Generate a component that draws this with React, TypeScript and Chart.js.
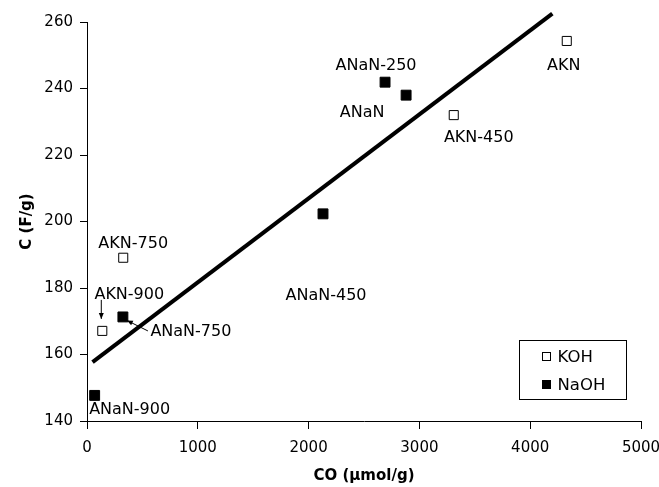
import React, { useEffect, useRef } from "react";
import { Chart, registerables } from "chart.js";

Chart.register(...registerables);

// ---- data ----
const kohLabels = ["AKN", "AKN-450", "AKN-750", "AKN-900"];
const kohCO = [4330, 3310, 327, 138];
const kohC = [254.3, 232.0, 189.1, 167.1];

const naohLabels = ["ANaN-250", "ANaN", "ANaN-450", "ANaN-750", "ANaN-900"];
const naohCO = [2690, 2880, 2130, 324, 69];
const naohC = [241.9, 238.0, 202.3, 171.3, 147.7];

const fitCO = [50, 4200];
const fitC = [157.7, 262.5];

const xTicks = [0, 1000, 2000, 3000, 4000, 5000];
const yTicks = [140, 160, 180, 200, 220, 240, 260];

// ---- label placement (pixel offsets from each marker) ----
const labelOffsets: Record<string, [number, number]> = {
  "AKN": [-3, 25],
  "AKN-450": [25, 23],
  "AKN-750": [10, -14],
  "AKN-900": [27, -36],
  "ANaN-250": [-9, -16],
  "ANaN": [-44, 18],
  "ANaN-450": [3, 82],
  "ANaN-750": [68, 15],
  "ANaN-900": [35, 14],
};
const arrowOffsets: Record<string, [number, number, number, number]> = {
  "AKN-900": [-1, -31, -1, -12],
  "ANaN-750": [25, 14, 4, 3.5],
};

const FONT = "'DejaVu Sans', 'Liberation Sans', Arial, sans-serif";

const annotationPlugin = {
  id: "annotations",
  afterDatasetsDraw(chart: any) {
    const ctx = chart.ctx;
    const xs = chart.scales.x;
    const ys = chart.scales.y;
    ctx.save();
    ctx.fillStyle = "#000";
    ctx.strokeStyle = "#000";
    ctx.font = `16px ${FONT}`;
    ctx.textAlign = "center";
    ctx.textBaseline = "middle";
    const groups = [
      { names: kohLabels, xv: kohCO, yv: kohC },
      { names: naohLabels, xv: naohCO, yv: naohC },
    ];
    for (const g of groups) {
      g.names.forEach((name, i) => {
        const px = xs.getPixelForValue(g.xv[i]);
        const py = ys.getPixelForValue(g.yv[i]);
        const off = labelOffsets[name] || [0, 0];
        ctx.fillText(name, px + off[0], py + off[1]);
        const a = arrowOffsets[name];
        if (a) {
          const x1 = px + a[0], y1 = py + a[1], x2 = px + a[2], y2 = py + a[3];
          ctx.lineWidth = 1;
          ctx.beginPath();
          ctx.moveTo(x1, y1);
          ctx.lineTo(x2, y2);
          ctx.stroke();
          const ang = Math.atan2(y2 - y1, x2 - x1);
          const L = 6, W = 2.5;
          ctx.beginPath();
          ctx.moveTo(x2, y2);
          ctx.lineTo(x2 - L * Math.cos(ang) + W * Math.sin(ang), y2 - L * Math.sin(ang) - W * Math.cos(ang));
          ctx.lineTo(x2 - L * Math.cos(ang) - W * Math.sin(ang), y2 - L * Math.sin(ang) + W * Math.cos(ang));
          ctx.closePath();
          ctx.fill();
        }
      });
    }
    // legend box
    const ca = chart.chartArea;
    const bx = Math.round(ca.right - 122) + 0.5;
    const by = Math.round(ca.bottom - 81) + 0.5;
    const bw = 107, bh = 59;
    ctx.fillStyle = "#fff";
    ctx.fillRect(bx, by, bw, bh);
    ctx.lineWidth = 1;
    ctx.strokeStyle = "#000";
    ctx.strokeRect(bx, by, bw, bh);
    const items = [
      { text: "KOH", fill: "#fff" },
      { text: "NaOH", fill: "#000" },
    ];
    ctx.textAlign = "left";
    ctx.font = `16.5px ${FONT}`;
    items.forEach((it, i) => {
      const cy = by + 16 + i * 28;
      ctx.fillStyle = it.fill;
      ctx.fillRect(bx + 23, cy - 4, 8, 8);
      ctx.strokeStyle = "#000";
      ctx.strokeRect(bx + 23, cy - 4, 8, 8);
      ctx.fillStyle = "#000";
      ctx.fillText(it.text, bx + 38, cy + 1);
    });
    ctx.restore();
  },
};

const zeroPad = (s: any) => {
  s.paddingLeft = 0;
  s.paddingRight = 0;
  s.paddingTop = 0;
  s.paddingBottom = 0;
};

export default function App() {
  const ref = useRef<HTMLCanvasElement | null>(null);
  useEffect(() => {
    if (!ref.current) return;
    const chart = new Chart(ref.current, {
      type: "scatter",
      data: {
        datasets: [
          {
            label: "fit",
            data: fitCO.map((x, i) => ({ x, y: fitC[i] })),
            showLine: true,
            borderColor: "#000",
            borderWidth: 4,
            pointRadius: 0,
            clip: false,
            order: 3,
          },
          {
            label: "KOH",
            data: kohCO.map((x, i) => ({ x, y: kohC[i] })),
            pointStyle: "rect",
            pointRadius: 6.4,
            backgroundColor: "#fff",
            borderColor: "#000",
            borderWidth: 1,
            clip: false,
            order: 1,
          },
          {
            label: "NaOH",
            data: naohCO.map((x, i) => ({ x, y: naohC[i] })),
            pointStyle: "rect",
            pointRadius: 7,
            backgroundColor: "#000",
            borderColor: "#000",
            borderWidth: 1,
            clip: false,
            order: 2,
          },
        ],
      },
      options: {
        animation: false,
        responsive: false,
        layout: { padding: { top: 22, right: 18, left: 0, bottom: 0 } },
        plugins: { legend: { display: false }, tooltip: { enabled: false } },
        scales: {
          x: {
            type: "linear",
            min: 0,
            max: 5000,
            afterBuildTicks: (s: any) => {
              s.ticks = xTicks.map((v) => ({ value: v }));
            },
            afterFit: (s: any) => {
              s.height = 66;
              zeroPad(s);
            },
            grid: { drawOnChartArea: false, drawTicks: true, tickLength: 8, color: "#000" },
            border: { color: "#000", width: 1 },
            ticks: {
              color: "#000",
              font: { family: FONT, size: 15 },
              padding: 10,
              maxRotation: 0,
              callback: (v: any) => String(v),
            },
            title: {
              display: true,
              text: "CO (µmol/g)",
              color: "#000",
              font: { family: FONT, size: 15, weight: "bold" },
              padding: { top: 0, bottom: 2 },
            },
          },
          y: {
            type: "linear",
            min: 140,
            max: 260,
            afterBuildTicks: (s: any) => {
              s.ticks = yTicks.map((v) => ({ value: v }));
            },
            afterFit: (s: any) => {
              s.width = 87;
              zeroPad(s);
            },
            grid: { drawOnChartArea: false, drawTicks: true, tickLength: 7, color: "#000" },
            border: { color: "#000", width: 1 },
            ticks: {
              color: "#000",
              font: { family: FONT, size: 15 },
              padding: 7,
              callback: (v: any) => String(v),
            },
            title: {
              display: true,
              text: "C (F/g)",
              color: "#000",
              font: { family: FONT, size: 15, weight: "bold" },
              padding: { top: 18, bottom: 0 },
            },
          },
        },
      },
      plugins: [annotationPlugin],
    } as any);
    return () => chart.destroy();
  }, []);
  return (
    <div style={{ position: "fixed", left: 0, top: 0, width: 659, height: 487, background: "#fff" }}>
      <canvas ref={ref} width={659} height={487} style={{ width: 659, height: 487, display: "block" }} />
    </div>
  );
}
